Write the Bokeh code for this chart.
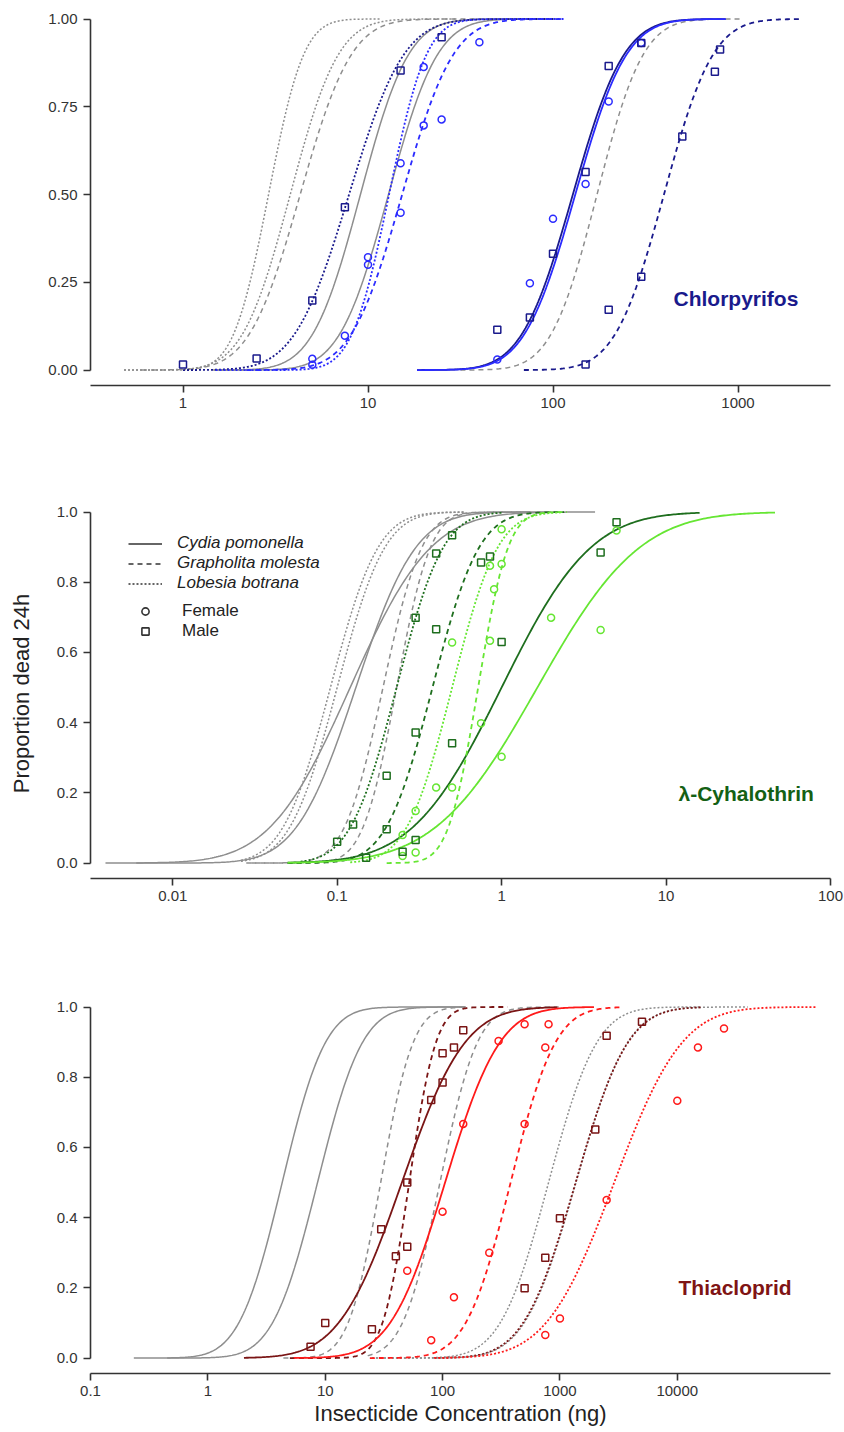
import math
import numpy as np
from bokeh.plotting import figure
from bokeh.layouts import column
from bokeh.models import (Range1d, FixedTicker, NumeralTickFormatter, PrintfTickFormatter,
                          Label, Legend, LegendItem)
from bokeh.embed import file_html
from bokeh.resources import INLINE

FONT = "Liberation Sans"

# ------------------------------------------------------------------ data
# Curves: probit dose-response fits (LC50 in ng, slope in probits per log10 unit)
# species: Cp = Cydia pomonella (solid), Gm = Grapholita molesta (dashed), Lb = Lobesia botrana (dotted)
# group: ref = grey comparison curves, male = dark colour, female = bright colour

# Chlorpyrifos
CHL_CURVE_SPECIES = ["Lb", "Lb", "Gm", "Cp", "Cp", "Gm", "Lb", "Lb", "Gm", "Cp", "Cp", "Gm"]
CHL_CURVE_GROUP = ["ref", "ref", "ref", "ref", "ref", "ref",
                   "male", "female", "female", "male", "female", "male"]
CHL_CURVE_LC50 = [2.9, 3.8, 4.3, 9.1, 12.9, 173, 7.9, 13.0, 15.3, 128, 132, 398]
CHL_CURVE_SLOPE = [6.7, 4.9, 4.6, 4.9, 4.8, 5.1, 4.3, 6.3, 4.6, 4.6, 4.6, 4.8]
CHL_CURVE_XMIN = [0.48, 0.48, 0.6, 1.46, 1.46, 31.6, 1.0, 1.5, 2.2, 18.4, 18.4, 69.6]
CHL_CURVE_XMAX = [11.7, 30, 60, 80, 110, 1033, 100, 114, 114, 858, 858, 2183]
CHL_F_DOSE = [5, 5, 7.5, 10, 10, 15, 15, 20, 20, 25, 40, 50, 75, 100, 150, 200, 300]
CHL_F_PROP = [0.015, 0.032, 0.098, 0.30, 0.321, 0.448, 0.589, 0.697, 0.863, 0.714, 0.934,
              0.030, 0.247, 0.431, 0.530, 0.765, 0.932]
CHL_M_DOSE = [1, 2.5, 5, 7.5, 15, 25, 50, 75, 100, 150, 200, 300, 150, 200, 300, 500, 750, 800]
CHL_M_PROP = [0.016, 0.033, 0.198, 0.464, 0.853, 0.948, 0.115, 0.150, 0.331, 0.564, 0.866, 0.932,
              0.016, 0.172, 0.266, 0.665, 0.850, 0.913]

# lambda-Cyhalothrin
LCY_CURVE_SPECIES = ["Cp", "Cp", "Lb", "Lb", "Gm", "Gm", "Lb", "Gm", "Cp", "Lb", "Gm", "Cp"]
LCY_CURVE_GROUP = ["ref", "ref", "ref", "ref", "ref", "ref",
                   "male", "male", "male", "female", "female", "female"]
LCY_CURVE_LC50 = [0.12, 0.13, 0.091, 0.10, 0.19, 0.23, 0.23, 0.38, 1.0, 0.5, 0.72, 1.65]
LCY_CURVE_SLOPE = [2.6, 3.5, 4.4, 4.4, 5.4, 6.2, 4.5, 4.5, 2.35, 4.6, 7.0, 2.05]
LCY_CURVE_XMIN = [0.0039, 0.006, 0.026, 0.026, 0.028, 0.03, 0.06, 0.05, 0.05, 0.12, 0.2, 0.05]
LCY_CURVE_XMAX = [3.7, 2.0, 0.6, 0.6, 1.5, 1.5, 1.0, 2.4, 16, 2.3, 2.5, 46]
LCY_F_DOSE = [0.25, 0.25, 0.3, 0.3, 0.4, 0.5, 0.5, 0.75, 0.85, 0.85, 0.9, 1.0, 1.0, 1.0, 2.0, 4.0, 5.0]
LCY_F_PROP = [0.08, 0.02, 0.148, 0.03, 0.215, 0.628, 0.215, 0.398, 0.633, 0.847, 0.78, 0.852,
              0.951, 0.303, 0.699, 0.664, 0.947]
LCY_M_DOSE = [0.1, 0.125, 0.15, 0.2, 0.2, 0.25, 0.3, 0.3, 0.3, 0.4, 0.4, 0.5, 0.5, 0.75, 0.85,
              1.0, 4.0, 5.0]
LCY_M_PROP = [0.061, 0.110, 0.015, 0.249, 0.096, 0.032, 0.699, 0.372, 0.066, 0.882, 0.666,
              0.934, 0.341, 0.856, 0.873, 0.63, 0.885, 0.971]

# Thiacloprid
THI_CURVE_SPECIES = ["Cp", "Cp", "Gm", "Gm", "Lb", "Lb", "Cp", "Gm", "Lb", "Cp", "Gm", "Lb"]
THI_CURVE_GROUP = ["ref", "ref", "ref", "ref", "ref", "ref",
                   "male", "male", "male", "female", "female", "female"]
THI_CURVE_LC50 = [4.3, 8.6, 29.7, 95, 800, 1370, 45, 52, 1360, 105, 380, 2900]
THI_CURVE_SLOPE = [3.46, 3.33, 4.6, 4.0, 3.1, 2.9, 2.37, 5.6, 2.86, 2.73, 3.34, 2.2]
THI_CURVE_XMIN = [0.234, 0.45, 4.4, 23, 25, 25, 2.03, 5, 85, 5.4, 24, 85]
THI_CURVE_XMAX = [157, 157, 150, 1000, 15800, 39800, 950, 357, 15800, 1950, 3300, 152000]
THI_F_DOSE = [50, 80, 100, 125, 150, 250, 300, 500, 500, 750, 800, 750, 1000, 2500, 10000,
              15000, 25000]
THI_F_PROP = [0.249, 0.051, 0.417, 0.173, 0.667, 0.30, 0.903, 0.951, 0.667, 0.885, 0.951,
              0.066, 0.113, 0.45, 0.733, 0.885, 0.939]
THI_M_DOSE = [7.5, 10, 25, 30, 40, 50, 50, 80, 100, 100, 125, 150, 500, 750, 1000, 2000, 2500, 5000]
THI_M_PROP = [0.032, 0.10, 0.082, 0.367, 0.29, 0.317, 0.5, 0.735, 0.785, 0.868, 0.885, 0.934,
              0.199, 0.286, 0.398, 0.651, 0.918, 0.958]

LEGEND_SPECIES = ["Cydia pomonella", "Grapholita molesta", "Lobesia botrana"]
LEGEND_SEX = ["Female", "Male"]

# ------------------------------------------------------------------ style
DASH = {"Cp": "solid", "Gm": "5 4", "Lb": "2 2"}
GREY = "#8e8e8e"
INK = "#333333"
NAN = float("nan")


def probit(lc50, slope, xmin, xmax, n=240):
    lx = np.linspace(math.log10(xmin), math.log10(xmax), n)
    z = slope * (lx - math.log10(lc50))
    p = np.array([0.5 * (1.0 + math.erf(v / math.sqrt(2.0))) for v in z])
    return 10 ** lx, p


def make_panel(height, top, bottom, xr, xticks, yticks, yfmt,
               species, group, lc50, slope, xmin, xmax,
               fdose, fprop, mdose, mprop, col_f, col_m,
               title, title_color, title_xy):
    p = figure(width=844, height=height, x_axis_type="log",
               x_range=Range1d(*xr), y_range=Range1d(-0.044, 1.010),
               output_backend="svg", toolbar_location=None,
               min_border_left=90, min_border_right=14,
               min_border_top=top, min_border_bottom=bottom)
    p.outline_line_color = None
    p.grid.visible = False
    p.background_fill_color = "white"
    p.border_fill_color = "white"

    colors = {"ref": GREY, "male": col_m, "female": col_f}
    widths = {"ref": 1.5, "male": 1.8, "female": 1.8}
    order = [i for i in range(len(species)) if group[i] == "ref"] + \
            [i for i in range(len(species)) if group[i] != "ref"]
    for i in order:
        xs, ys = probit(lc50[i], slope[i], xmin[i], xmax[i])
        p.line(xs, ys, line_color=colors[group[i]], line_width=widths[group[i]],
               line_dash=DASH[species[i]])

    p.scatter(fdose, fprop, marker="circle", size=7, fill_color=None,
              line_color=col_f, line_width=1.5)
    p.scatter(mdose, mprop, marker="square", size=7, fill_color=None,
              line_color=col_m, line_width=1.5)

    xa = p.xaxis[0]
    ya = p.yaxis[0]
    xa.ticker = FixedTicker(ticks=xticks)
    xa.formatter = PrintfTickFormatter(format="%g")
    ya.ticker = FixedTicker(ticks=yticks)
    ya.formatter = NumeralTickFormatter(format=yfmt)
    ya.bounds = (0, 1)
    for ax in (xa, ya):
        ax.axis_line_color = INK
        ax.axis_line_width = 1.6
        ax.major_tick_line_color = INK
        ax.major_tick_line_width = 1.6
        ax.major_tick_out = 7
        ax.major_tick_in = 0
        ax.minor_tick_line_color = None
        ax.major_label_text_font = FONT
        ax.major_label_text_font_size = "15px"
        ax.major_label_text_color = INK
    xa.major_label_standoff = 5
    ya.major_label_standoff = 6

    p.add_layout(Label(x=title_xy[0], y=title_xy[1], x_units="screen", y_units="screen",
                       text=title, text_font=FONT, text_font_size="21px",
                       text_font_style="bold", text_color=title_color,
                       text_baseline="middle", text_align="left"))
    return p


p1 = make_panel(460, 15, 75, (10 ** -0.5, 10 ** 3.5), [1, 10, 100, 1000],
                [0, 0.25, 0.5, 0.75, 1.0], "0.00",
                CHL_CURVE_SPECIES, CHL_CURVE_GROUP, CHL_CURVE_LC50, CHL_CURVE_SLOPE,
                CHL_CURVE_XMIN, CHL_CURVE_XMAX,
                CHL_F_DOSE, CHL_F_PROP, CHL_M_DOSE, CHL_M_PROP,
                "#2b2bff", "#1a1a8c", "Chlorpyrifos", "#1a1a8c", (583, 87))

p2 = make_panel(500, 48, 82, (10 ** -2.5, 100), [0.01, 0.1, 1, 10, 100],
                [0, 0.2, 0.4, 0.6, 0.8, 1.0], "0.0",
                LCY_CURVE_SPECIES, LCY_CURVE_GROUP, LCY_CURVE_LC50, LCY_CURVE_SLOPE,
                LCY_CURVE_XMIN, LCY_CURVE_XMAX,
                LCY_F_DOSE, LCY_F_PROP, LCY_M_DOSE, LCY_M_PROP,
                "#66e633", "#1e6e1e", "\u03bb-Cyhalothrin", "#146014", (588, 85))

p3 = make_panel(472, 43, 59, (0.1, 2.02e5), [0.1, 1, 10, 100, 1000, 10000],
                [0, 0.2, 0.4, 0.6, 0.8, 1.0], "0.0",
                THI_CURVE_SPECIES, THI_CURVE_GROUP, THI_CURVE_LC50, THI_CURVE_SLOPE,
                THI_CURVE_XMIN, THI_CURVE_XMAX,
                THI_F_DOSE, THI_F_PROP, THI_M_DOSE, THI_M_PROP,
                "#ff1a1a", "#7a1515", "Thiacloprid", "#7f1414", (588, 86))

# axis titles
p2.yaxis[0].axis_label = "Proportion dead 24h"
p2.yaxis[0].axis_label_text_font = FONT
p2.yaxis[0].axis_label_text_font_size = "22px"
p2.yaxis[0].axis_label_text_font_style = "normal"
p2.yaxis[0].axis_label_text_color = "#222222"
p2.yaxis[0].axis_label_standoff = 20

p3.xaxis[0].axis_label = "Insecticide Concentration (ng)"
p3.xaxis[0].axis_label_text_font = FONT
p3.xaxis[0].axis_label_text_font_size = "22px"
p3.xaxis[0].axis_label_text_font_style = "normal"
p3.xaxis[0].axis_label_text_color = "#222222"
p3.xaxis[0].axis_label_standoff = 2

# legends (panel 2) - renderers hold a single NaN point so only the key is drawn
sp_items = []
for name, code in zip(LEGEND_SPECIES, ["Cp", "Gm", "Lb"]):
    r = p2.line([NAN, NAN], [NAN, NAN], line_color=INK, line_width=1.6, line_dash=DASH[code])
    sp_items.append(LegendItem(label=name, renderers=[r]))
leg1 = Legend(items=sp_items, location=(38, 285), padding=0, margin=0, spacing=0,
              glyph_width=34, glyph_height=19, label_height=19, label_standoff=15,
              label_text_font=FONT, label_text_font_size="17px",
              label_text_font_style="italic", label_text_color="#222222",
              border_line_color=None, background_fill_alpha=0)
p2.add_layout(leg1)

sex_items = []
for name, mk in zip(LEGEND_SEX, ["circle", "square"]):
    r = p2.scatter([NAN], [NAN], marker=mk, size=11, fill_color=None, line_color=INK,
                   line_width=1.6)
    sex_items.append(LegendItem(label=name, renderers=[r]))
leg2 = Legend(items=sex_items, location=(38, 237), padding=0, margin=0, spacing=0,
              glyph_width=34, glyph_height=18, label_height=18, label_standoff=20,
              label_text_font=FONT, label_text_font_size="17px",
              label_text_color="#222222",
              border_line_color=None, background_fill_alpha=0)
p2.add_layout(leg2)

layout = column(p1, p2, p3, spacing=0)
open("out.html", "w").write(file_html(layout, INLINE))
